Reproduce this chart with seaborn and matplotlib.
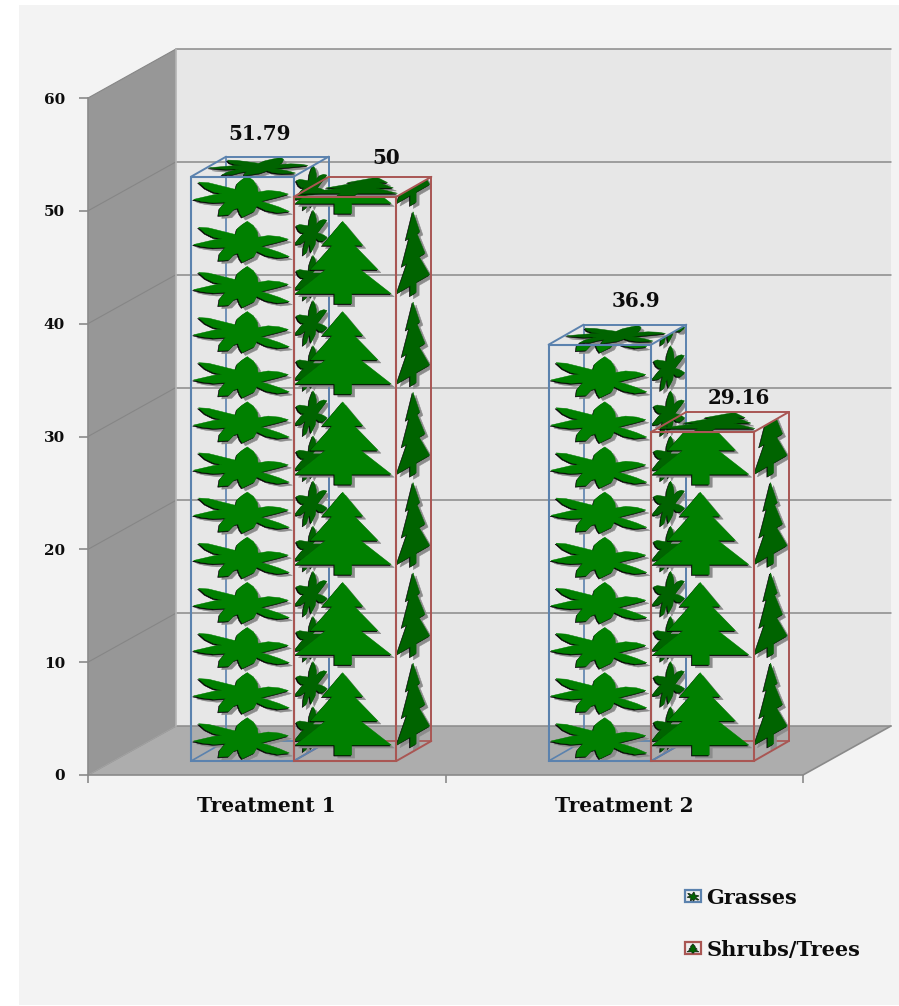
import matplotlib
matplotlib.use("Agg")
import matplotlib.pyplot as plt
import numpy as np
import pandas as pd
import seaborn as sns
from matplotlib.legend_handler import HandlerBase
from matplotlib.patches import Patch, PathPatch, Polygon, Rectangle
from matplotlib.path import Path
from matplotlib.transforms import Affine2D, IdentityTransform

# Chart values
treatments = ["Treatment 1", "Treatment 2"]
groups = ["Grasses", "Shrubs/Trees"]
grasses = [51.79, 36.9]
shrubs_trees = [50, 29.16]
value_labels = ["51.79", "36.9", "50", "29.16"]

# Pictogram outlines: the leaf on a 305 x 135.6 design grid, the tree in unit tile coordinates
LEAF_GRID = [
    (167, 130), (185, 117), (197, 97), (199, 82), (229, 87), (262, 84), (289, 76),
    (257, 67), (225, 59), (207, 54), (232, 47), (262, 37), (292, 24), (257, 20),
    (222, 27), (195, 40), (187, 24), (152, 7), (145, 17), (139, 34), (127, 30),
    (112, 14), (82, 12), (85, 32), (102, 52), (67, 50), (32, 54), (7, 60),
    (37, 67), (67, 74), (92, 77), (67, 82), (42, 94), (22, 112), (52, 110),
    (92, 100), (132, 90), (137, 107), (152, 120), (167, 130),
]
LEAF_OUTLINE = (np.array(LEAF_GRID, dtype=float) / [305.0, 135.6]).tolist()
TREE_OUTLINE = [
    (.477, .978), (.672, .712), (.590, .712), (.820, .443), (.650, .443),
    (.950, .177), (.565, .177), (.565, .066), (.400, .066), (.400, .177),
    (.016, .177), (.310, .443), (.164, .443), (.375, .712), (.279, .712),
    (.477, .978),
]

FIG_W, FIG_H = 899, 1006
DPI = 100
sns.set_theme(style="white")
plt.rcParams["font.family"] = ["DejaVu Serif"]
INK = "#0C0C0C"

fig = plt.figure(figsize=(FIG_W / DPI, FIG_H / DPI), dpi=DPI, facecolor="white")
fig.add_artist(Rectangle((19 / FIG_W, 1 / FIG_H), 880 / FIG_W, 1000 / FIG_H,
                         transform=fig.transFigure, fc="#F3F3F3", ec="none", zorder=-10))
ax = fig.add_axes([88 / FIG_W, (FIG_H - 775) / FIG_H, 715 / FIG_W, 677 / FIG_H])
ax.patch.set_alpha(0)

table = pd.DataFrame({
    "treatment": treatments * 2,
    "group": [groups[0]] * 2 + [groups[1]] * 2,
    "value": grasses + shrubs_trees,
})
sns.barplot(data=table, x="treatment", y="value", hue="group", hue_order=groups,
            width=0.574, gap=0, dodge=True, legend=False, ax=ax, errorbar=None,
            fill=False, zorder=6)
ax.set_xlim(-0.5, 1.5)
ax.set_ylim(0, 60)
ax.set_xlabel("")
ax.set_ylabel("")
bars = list(ax.patches)

# Projection of the floor and walls, in pixels
WALL_DEPTH = np.array([88.0, 49.0])
BAR_LIFT = np.array([27.0, 14.0])
BAR_DEPTH = np.array([35.0, 20.0])


def px(x, y):
    return np.array(ax.transData.transform((x, y)))


def screen_poly(points, **kw):
    patch = Polygon(np.array(points), closed=True, transform=IdentityTransform(), **kw)
    patch.set_clip_on(False)
    ax.add_artist(patch)
    return patch


def screen_line(points, **kw):
    points = np.array(points)
    line = plt.Line2D(points[:, 0], points[:, 1], transform=IdentityTransform(),
                      clip_on=False, **kw)
    ax.add_artist(line)
    return line


# Walls and floor
o, top, r = px(-0.5, 0), px(-0.5, 60), px(1.5, 0)
top_r = px(1.5, 60)
screen_poly([o + WALL_DEPTH, top + WALL_DEPTH, top_r + WALL_DEPTH, r + WALL_DEPTH],
            fc="#E7E7E7", ec="none", zorder=0.5)
screen_poly([o, top, top + WALL_DEPTH, o + WALL_DEPTH], fc="#979797", ec="none", zorder=0.6)
screen_poly([o, o + WALL_DEPTH, r + WALL_DEPTH, r], fc="#ADADAD", ec="none", zorder=0.7)
GRID = "#8A8A8A"
for v in np.arange(0, 61, 10):
    a = px(-0.5, v)
    b = px(1.5, v)
    screen_line([a, a + WALL_DEPTH], color="#868686", lw=0.8, zorder=0.9)
    screen_line([a + WALL_DEPTH, b + WALL_DEPTH], color=GRID, lw=1.1, zorder=0.9)
screen_line([o, o + WALL_DEPTH], color="#A0A0A0", lw=1, zorder=0.9)
screen_line([top + WALL_DEPTH, o + WALL_DEPTH], color="#B5B5B5", lw=1.2, zorder=0.9)
screen_line([r, r + WALL_DEPTH], color="#8A8A8A", lw=1.2, zorder=0.9)


def stamp(outline, origin, u_vec, v_vec, clip_path, face, zorder):
    """Draw one pictogram through an affine map of its tile, with drop shadow and dark rim."""
    mapping = Affine2D.from_values(u_vec[0], u_vec[1], v_vec[0], v_vec[1], origin[0], origin[1])
    path = Path(np.array(outline)).transformed(mapping)
    layers = [
        (path.transformed(Affine2D().translate(3, -3)), "#8C8C8C", zorder),
        (path.transformed(Affine2D().translate(-1.0, -1.0)), "#050505", zorder + 0.01),
        (path, face, zorder + 0.02),
    ]
    for shape, colour, depth in layers:
        art = PathPatch(shape, fc=colour, ec=colour, lw=0.35, transform=IdentityTransform(),
                        zorder=depth)
        ax.add_patch(art)
        art.set_clip_path(clip_path, IdentityTransform())


FRONT_GREEN = "#008000"
SIDE_GREEN = "#006400"
EDGE_COLOURS = ["#5B82AE", "#A95653"]
STACK_PERIOD = [4.0, 8.0]
OUTLINES = [LEAF_OUTLINE, TREE_OUTLINE]
Z_BY_GROUP = [2.0, 3.0]

label_anchor = []
for i, bar in enumerate(bars):
    g = i // 2
    x0, x1 = bar.get_x(), bar.get_x() + bar.get_width()
    value = bar.get_height()
    bl = px(x0, 0) + BAR_LIFT
    br = px(x1, 0) + BAR_LIFT
    tl = px(x0, value) + BAR_LIFT
    tr = px(x1, value) + BAR_LIFT
    label_anchor.append(((bl[0] + tr[0]) / 2, tr[1]))
    period = STACK_PERIOD[g]
    v_vec = px(0, period) - px(0, 0)
    u_vec = br - bl
    z = Z_BY_GROUP[g]

    # Keep the seaborn rectangle as the front face of the column
    bar.set_xy(bl)
    bar.set_width(u_vec[0])
    bar.set_height(tl[1] - bl[1])
    bar.set_edgecolor(EDGE_COLOURS[g])
    bar.set_linewidth(1.5)
    bar.set_transform(IdentityTransform())
    bar.set_clip_on(False)
    bar.set_zorder(z + 0.6)

    front_clip = Path(np.array([bl, br, tr, tl, bl]))
    side_clip = Path(np.array([br, br + BAR_DEPTH, tr + BAR_DEPTH, tr, br]))
    top_clip = Path(np.array([tl, tr, tr + BAR_DEPTH, tl + BAR_DEPTH, tl]))

    # Tiles on the side face, then the lid, then the front
    n_tiles = int(np.ceil(value / period))
    for k in range(n_tiles):
        stamp(OUTLINES[g], br + k * v_vec, BAR_DEPTH, v_vec, side_clip, SIDE_GREEN, z + 0.1)
    stamp(OUTLINES[g], tl, u_vec, BAR_DEPTH, top_clip, SIDE_GREEN, z + 0.2)
    for k in range(n_tiles):
        stamp(OUTLINES[g], bl + k * v_vec, u_vec, v_vec, front_clip, FRONT_GREEN, z + 0.3)

    # Wireframe edges of the column
    edge = EDGE_COLOURS[g]
    for seg in [
        (tl, tl + BAR_DEPTH), (tr, tr + BAR_DEPTH), (tl + BAR_DEPTH, tr + BAR_DEPTH),
        (br + BAR_DEPTH, tr + BAR_DEPTH), (br, br + BAR_DEPTH),
    ]:
        screen_line(seg, color=edge, lw=1.4, zorder=z + 0.6)
    for seg in [
        (bl, bl + BAR_DEPTH), (bl + BAR_DEPTH, br + BAR_DEPTH), (bl + BAR_DEPTH, tl + BAR_DEPTH),
    ]:
        screen_line(seg, color=edge, lw=1.2, zorder=z - 0.5)

# Value labels sit just above each lid, hand-placed to clear neighbouring columns
LABEL_NUDGE = [(17, 43), (36, 44), (41, 39), (36, 34)]
for (ax_x, ax_y), text, nudge in zip(label_anchor, value_labels, LABEL_NUDGE):
    ax.annotate(text, xy=(ax_x + nudge[0], ax_y + nudge[1]),
                xycoords=IdentityTransform(), ha="center", va="center", fontsize=14.3,
                fontweight="bold", color=INK, annotation_clip=False, zorder=10)

# Axes furniture
for side in ("top", "right"):
    ax.spines[side].set_visible(False)
for side in ("left", "bottom"):
    ax.spines[side].set_color("#8A8A8A")
    ax.spines[side].set_linewidth(1.2)
    ax.spines[side].set_zorder(1)

ax.set_yticks(np.arange(0, 61, 10))
ax.tick_params(axis="y", length=6.5, width=1.2, color="#8A8A8A", pad=10, left=True,
               labelsize=11, labelcolor=INK)
ax.set_xticks([0, 1], treatments)
ax.set_xticks([-0.5, 0.5, 1.5], minor=True)
ax.tick_params(axis="x", which="minor", length=5.5, width=1.2, color="#8A8A8A", bottom=True)
ax.tick_params(axis="x", which="major", length=0, pad=15, labelsize=14.5, labelcolor=INK)
for lab in ax.get_xticklabels() + ax.get_yticklabels():
    lab.set_fontweight("bold")


class PictogramHandler(HandlerBase):
    """Legend key: a small framed swatch with the group's pictogram inside."""

    def __init__(self, outline):
        super().__init__()
        self.outline = outline

    def create_artists(self, legend, orig, xd, yd, width, height, fontsize, trans):
        frame = Rectangle((-xd, -yd), width, height, fc="#EFEFEF",
                          ec=orig.get_edgecolor(), lw=1.6, transform=trans)
        inner = Affine2D().scale(width * 0.8, height * 0.85).translate(-xd + width * 0.1, -yd + height * 0.05)
        glyph = PathPatch(Path(np.array(self.outline)), fc="#006400", ec="#101010", lw=0.4,
                          transform=inner + trans)
        return [frame, glyph]


handles = [Patch(edgecolor=c, facecolor="none", label=n) for c, n in zip(EDGE_COLOURS, groups)]
legend = fig.legend(
    handles=handles, labels=groups, loc="upper left",
    bbox_to_anchor=(668.5 / FIG_W, (FIG_H - 871) / FIG_H), frameon=False,
    prop={"family": "DejaVu Serif", "weight": "bold", "size": 15},
    handlelength=0.77, handleheight=0.5, handletextpad=0.24, labelspacing=1.54,
    labelcolor=INK, borderpad=0.3,
    handler_map={handles[0]: PictogramHandler(LEAF_OUTLINE), handles[1]: PictogramHandler(TREE_OUTLINE)},
)

fig.savefig("out.png", dpi=DPI, facecolor="white")
